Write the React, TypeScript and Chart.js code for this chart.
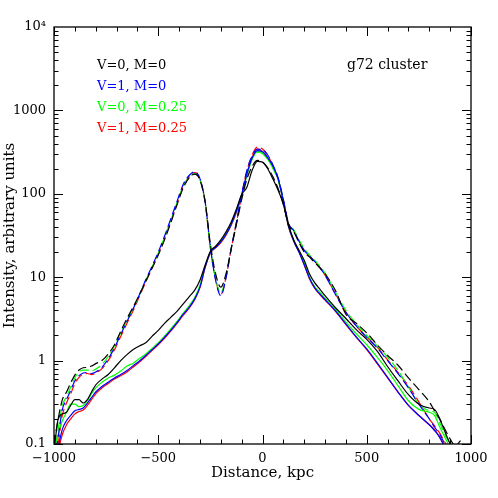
import React, { useEffect, useRef } from "react";
import { Chart, registerables } from "chart.js";

Chart.register(...registerables);

// Projected distance grid, kpc
const distance = [
  -1000, -980, -960, -940, -920, -900, -880, -860, -840, -820, -800,
  -770, -740, -710, -680, -650, -620, -590, -560, -530, -500, -470, -440, -410, -380, -350,
  -325, -300, -275, -250, -225, -200, -175, -150, -125, -100, -75, -50, -25, 0, 25, 50, 75, 100, 125, 150, 175, 200, 225, 250, 275, 300,
  350, 400, 450, 500, 550, 600, 650, 700, 750, 800,
  825, 850, 875, 900, 925, 950,
];

// Dashed curves (two peaks)
const dashedV0M0 = [
  0.10, 0.2, 0.34, 0.42, 0.54, 0.67, 0.77, 0.82, 0.83, 0.86, 0.92,
  1.0, 1.2, 1.55, 2.25, 3.2, 4.4, 6.2, 8.9, 12.8, 18.5, 28, 45, 74, 118, 157,
  172, 146, 80, 25, 11, 7.6, 11, 22, 43, 85, 150, 212, 252, 240, 205, 160, 115, 75, 42, 35, 26, 20, 17.5, 15, 13, 11,
  6.9, 3.6, 2.8, 2.15, 1.55, 1.15, 0.88, 0.62, 0.45, 0.32,
  0.25, 0.2, 0.15, 0.115, 0.095, 0.11,
];
const dashedV1M0 = [
  0.06, 0.12, 0.26, 0.34, 0.44, 0.57, 0.66, 0.71, 0.72, 0.70, 0.73,
  0.83, 1.05, 1.42, 2.05, 2.95, 4.2, 6.2, 9.3, 13.5, 20, 31, 50, 81, 130, 168,
  184, 152, 80, 23, 9.2, 6.0, 9.8, 22, 46, 98, 190, 282, 342, 338, 292, 222, 155, 86, 44, 36, 27, 21, 18, 15.5, 13, 10.6,
  6.2, 3.8, 2.6, 1.9, 1.42, 1.0, 0.7, 0.47, 0.3, 0.2,
  0.16, 0.13, 0.1, 0.075, 0.06, 0.05,
];
const dashedV0M025 = [
  0.07, 0.15, 0.29, 0.37, 0.48, 0.62, 0.73, 0.77, 0.77, 0.75, 0.79,
  0.9, 1.12, 1.5, 2.15, 3.05, 4.25, 6.2, 9.1, 13.2, 19.5, 30, 48, 78, 124, 160,
  175, 148, 78, 23, 9.6, 6.5, 10.2, 22, 45, 92, 176, 265, 322, 312, 268, 202, 146, 82, 43, 37, 28, 22, 18.5, 16, 13.5, 11.2,
  6.6, 4.0, 2.75, 2.0, 1.5, 1.1, 0.76, 0.48, 0.3, 0.25,
  0.24, 0.18, 0.13, 0.1, 0.075, 0.11,
];
const dashedV1M025 = [
  0.05, 0.10, 0.22, 0.31, 0.40, 0.53, 0.63, 0.69, 0.70, 0.68, 0.71,
  0.80, 1.0, 1.35, 1.95, 2.8, 4.0, 5.9, 8.8, 12.8, 19, 29, 46, 76, 122, 162,
  179, 150, 78, 22, 9.5, 6.2, 10, 22, 45, 95, 188, 290, 362, 345, 290, 215, 150, 84, 44, 36, 27, 21, 18, 15.5, 13, 10.6,
  6.3, 3.8, 2.6, 1.92, 1.45, 1.02, 0.72, 0.5, 0.32, 0.2,
  0.165, 0.135, 0.105, 0.08, 0.06, 0.05,
];

// Solid curves (single peak)
const solidV0M0 = [
  0.08, 0.2, 0.23, 0.24, 0.29, 0.34, 0.34, 0.31, 0.34, 0.42, 0.51,
  0.60, 0.68, 0.82, 1.0, 1.18, 1.36, 1.5, 1.64, 1.95, 2.3, 2.8, 3.3, 3.9, 4.8, 5.9,
  7.0, 9.2, 14, 20.5, 23.5, 28, 35, 46, 66, 98, 120, 190, 245, 240, 200, 150, 110, 75, 42, 28, 21, 16, 11, 8.6, 7.2, 6.0,
  4.3, 3.2, 2.35, 1.8, 1.3, 0.85, 0.57, 0.39, 0.3, 0.27,
  0.26, 0.2, 0.14, 0.1, 0.075, 0.06,
];
const solidV1M0 = [
  0.05, 0.09, 0.15, 0.19, 0.22, 0.25, 0.26, 0.27, 0.31, 0.36, 0.42,
  0.49, 0.55, 0.62, 0.68, 0.76, 0.87, 0.99, 1.15, 1.35, 1.58, 1.9, 2.3, 2.85, 3.6, 4.4,
  5.5, 7.6, 13.2, 19.8, 22.8, 26.5, 32.5, 43, 62, 98, 172, 268, 330, 320, 272, 215, 152, 82, 41, 27, 20, 14.2, 9.8, 7.5, 6.3, 5.4,
  3.95, 2.75, 1.92, 1.38, 0.94, 0.63, 0.42, 0.29, 0.22, 0.17,
  0.145, 0.12, 0.09, 0.07, 0.055, 0.045,
];
const solidV0M025 = [
  0.06, 0.13, 0.19, 0.24, 0.30, 0.30, 0.28, 0.29, 0.33, 0.40, 0.47,
  0.55, 0.62, 0.67, 0.75, 0.86, 0.93, 1.06, 1.2, 1.4, 1.64, 1.97, 2.4, 2.95, 3.7, 4.6,
  5.7, 8.0, 13.5, 19.8, 23, 26.8, 33, 43, 62, 96, 165, 258, 315, 302, 258, 202, 150, 82, 41, 27.5, 20.5, 15, 10, 7.7, 6.6, 5.6,
  4.1, 2.9, 2.1, 1.55, 1.1, 0.76, 0.5, 0.33, 0.26, 0.24,
  0.22, 0.16, 0.12, 0.09, 0.07, 0.1,
];
const solidV1M025 = [
  0.04, 0.08, 0.13, 0.17, 0.20, 0.23, 0.245, 0.255, 0.29, 0.34, 0.40,
  0.47, 0.53, 0.60, 0.66, 0.73, 0.84, 0.96, 1.12, 1.32, 1.55, 1.85, 2.25, 2.8, 3.5, 4.3,
  5.4, 7.5, 13, 19.5, 22.5, 26, 32, 42, 60, 95, 170, 270, 345, 322, 270, 210, 150, 80, 40, 27, 20, 14, 9.6, 7.4, 6.2, 5.3,
  3.9, 2.7, 1.9, 1.35, 0.92, 0.62, 0.42, 0.29, 0.22, 0.17,
  0.15, 0.12, 0.095, 0.07, 0.055, 0.045,
];

const legendLabels = ["V=0, M=0", "V=1, M=0", "V=0, M=0.25", "V=1, M=0.25"];
const seriesColors = ["#000000", "#0000ff", "#00ff00", "#ff0000"];
const xTickValues = [-1000, -500, 0, 500, 1000];
const xTickLabels = ["\u22121000", "\u2212500", "0", "500", "1000"];
const yTickLabels = ["0.1", "1", "10", "100", "1000", "10\u2074"];
const clusterLabel = "g72 cluster";

const FONT = "'DejaVu Serif', serif";

const decorPlugin = {
  id: "decor",
  afterDraw(chart: any) {
    const { ctx, chartArea } = chart;
    const { left, right, top, bottom } = chartArea;
    const xs = chart.scales.x;
    const ys = chart.scales.y;
    ctx.save();
    ctx.strokeStyle = "#000";
    ctx.lineWidth = 1.3;
    ctx.strokeRect(left, top, right - left, bottom - top);
    ctx.lineWidth = 1;
    ctx.beginPath();
    for (let v = -1000; v <= 1000; v += 100) {
      const px = Math.round(xs.getPixelForValue(v)) + 0.5;
      const len = v % 500 === 0 ? 9 : 4.5;
      ctx.moveTo(px, bottom);
      ctx.lineTo(px, bottom - len);
      ctx.moveTo(px, top);
      ctx.lineTo(px, top + len);
    }
    for (let e = -1; e <= 3; e++) {
      for (let k = 1; k <= 9; k++) {
        const val = k * Math.pow(10, e);
        const py = Math.round(ys.getPixelForValue(val)) + 0.5;
        const len = k === 1 ? 9 : 4.5;
        ctx.moveTo(left, py);
        ctx.lineTo(left + len, py);
        ctx.moveTo(right, py);
        ctx.lineTo(right - len, py);
      }
    }
    ctx.stroke();

    ctx.font = `13px ${FONT}`;
    ctx.textBaseline = "alphabetic";
    ctx.textAlign = "left";
    legendLabels.forEach((t, i) => {
      ctx.fillStyle = seriesColors[i];
      ctx.fillText(t, left + 43, top + 41.5 + i * 21);
    });
    ctx.fillStyle = "#000";
    ctx.font = `14px ${FONT}`;
    ctx.fillText(clusterLabel, left + 293, top + 41.5);
    ctx.restore();
  },
};

export default function App() {
  const ref = useRef<HTMLCanvasElement>(null);
  useEffect(() => {
    if (!ref.current) return;
    const mk = (arr: number[], color: string, dashed: boolean) => ({
      data: distance.map((x, i) => ({ x, y: arr[i] })),
      borderColor: color,
      backgroundColor: color,
      borderWidth: 1.2,
      borderDash: dashed ? [9, 4] : [],
      pointRadius: 0,
      fill: false,
      cubicInterpolationMode: "monotone" as const,
    });
    const chart = new Chart(ref.current, {
      type: "line",
      data: {
        datasets: [
          mk(solidV0M0, seriesColors[0], false),
          mk(dashedV0M0, seriesColors[0], true),
          mk(solidV1M0, seriesColors[1], false),
          mk(dashedV1M0, seriesColors[1], true),
          mk(solidV0M025, seriesColors[2], false),
          mk(dashedV0M025, seriesColors[2], true),
          mk(solidV1M025, seriesColors[3], false),
          mk(dashedV1M025, seriesColors[3], true),
        ],
      },
      options: {
        animation: false,
        responsive: false,
        devicePixelRatio: 1,
        layout: { padding: { left: 0, top: 27, right: 27, bottom: 0 } },
        plugins: { legend: { display: false }, tooltip: { enabled: false } },
        scales: {
          x: {
            type: "linear",
            min: -1000,
            max: 1000,
            afterFit: (s: any) => {
              s.height = 54;
            },
            afterBuildTicks: (s: any) => {
              s.ticks = xTickValues.map((v) => ({ value: v }));
            },
            grid: { display: false, drawTicks: false },
            border: { display: false },
            ticks: {
              padding: 7,
              color: "#000",
              font: { family: FONT, size: 13 },
              maxRotation: 0,
              autoSkip: false,
              callback: (v: any) => {
                const i = xTickValues.indexOf(Number(v));
                return i >= 0 ? xTickLabels[i] : "";
              },
            },
            title: {
              display: true,
              text: "Distance, kpc",
              color: "#000",
              font: { family: FONT, size: 15 },
              padding: { top: 0, bottom: 16 },
            },
          },
          y: {
            type: "logarithmic",
            min: 0.1,
            max: 10000,
            afterFit: (s: any) => {
              s.width = 54;
            },
            afterBuildTicks: (s: any) => {
              s.ticks = yTickLabels.map((_, i) => ({ value: Math.pow(10, i - 1) }));
            },
            grid: { display: false, drawTicks: false },
            border: { display: false },
            ticks: {
              padding: 8,
              color: "#000",
              font: { family: FONT, size: 13 },
              autoSkip: false,
              callback: (v: any) => {
                const l = Math.round(Math.log10(Number(v)));
                return yTickLabels[l + 1] ?? "";
              },
            },
            title: {
              display: true,
              text: "Intensity, arbitrary units",
              color: "#000",
              font: { family: FONT, size: 15 },
              padding: { top: 1, bottom: 0 },
            },
          },
        },
      },
      plugins: [decorPlugin],
    });
    return () => chart.destroy();
  }, []);
  return (
    <div style={{ position: "absolute", left: 0, top: 0, width: 498, height: 498, background: "#fff" }}>
      <canvas ref={ref} width={498} height={498} style={{ display: "block" }} />
    </div>
  );
}
